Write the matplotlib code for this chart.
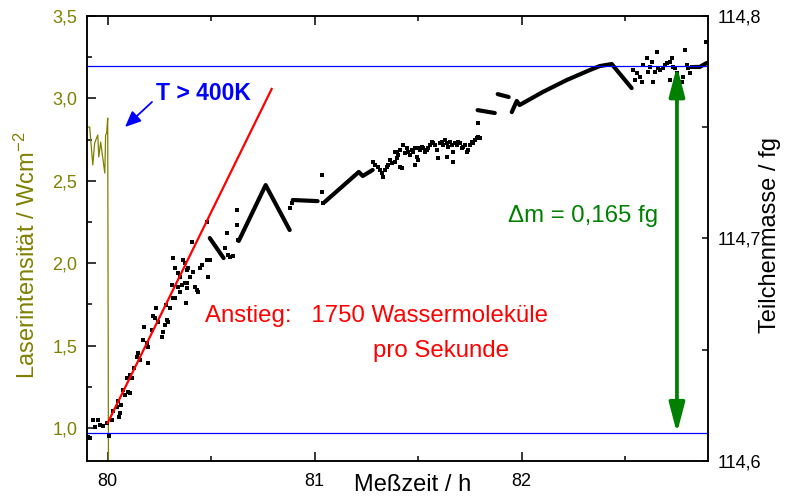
import matplotlib
matplotlib.use("Agg")
import matplotlib.pyplot as plt
from matplotlib.ticker import FixedLocator, AutoMinorLocator, FuncFormatter

plt.rcParams['font.family'] = ['Liberation Sans', 'DejaVu Sans']
plt.rcParams['mathtext.fontset'] = 'custom'
plt.rcParams['mathtext.rm'] = 'Liberation Sans'
plt.rcParams['mathtext.it'] = 'Liberation Sans:italic'

OLIVE = '#808000'
BLUE = '#0000ff'
RED = '#ff0000'
GREEN = '#008000'

# Laser intensity (W/cm^2) vs. time (h)
laser_t = [79.899, 79.913, 79.928, 79.937, 79.952, 79.957, 79.966, 79.971,
           79.986, 79.990, 79.995, 80.000, 80.005]
laser_i = [2.826, 2.826, 2.596, 2.729, 2.778, 2.644, 2.735, 2.687,
           2.547, 2.778, 2.790, 2.881, 0.0]

# Individual particle-mass readings (fg)
mass_t = [
    79.903, 79.913, 79.928, 79.937, 79.952, 79.961, 79.976, 79.995, 80.005,
    80.019, 80.024, 80.043, 80.048, 80.053, 80.058, 80.063, 80.072, 80.082,
    80.097, 80.106, 80.092, 80.106, 80.116, 80.126, 80.140, 80.145, 80.155,
    80.169, 80.188, 80.193, 80.174, 80.193, 80.213, 80.217, 80.227, 80.232,
    80.242, 80.261, 80.266, 80.275, 80.285, 80.290, 80.300, 80.280, 80.309,
    80.314, 80.324, 80.338, 80.348, 80.357, 80.372, 80.382, 80.377, 80.420,
    80.430, 80.435,
    80.314, 80.324, 80.338, 80.348, 80.362, 80.372, 80.382, 80.386, 80.396,
    80.382, 80.406, 80.411, 80.444, 80.454, 80.478, 80.478, 80.493, 80.483,
    80.565, 80.580, 80.589, 80.604, 80.575, 80.623, 80.623, 80.628,
    80.879, 80.889, 81.034, 81.034, 81.039,
    81.280, 81.290, 81.304, 81.314, 81.324, 81.329, 81.338, 81.348, 81.353,
    81.362, 81.372, 81.386, 81.396, 81.401, 81.411, 81.420, 81.386, 81.396,
    81.411, 81.425, 81.435, 81.444, 81.449, 81.459, 81.469, 81.473, 81.483,
    81.493, 81.498, 81.483, 81.498, 81.507, 81.517, 81.522, 81.531, 81.541,
    81.546, 81.556, 81.565, 81.570, 81.580, 81.589, 81.594, 81.604, 81.614,
    81.618, 81.628, 81.638, 81.638, 81.643, 81.652, 81.662, 81.667, 81.667,
    81.676, 81.686, 81.691, 81.700, 81.710, 81.715, 81.725, 81.734, 81.739,
    81.749, 81.758, 81.763, 81.773, 81.783, 81.787, 81.797, 81.787,
    82.536, 82.546, 82.556, 82.570, 82.580, 82.585, 82.604, 82.609, 82.618,
    82.628, 82.633, 82.643, 82.652, 82.657, 82.667, 82.681, 82.691, 82.700,
    82.715, 82.725, 82.729, 82.739, 82.749, 82.715, 82.773, 82.778, 82.787,
    82.797, 82.802, 82.812, 82.821, 82.889,
]
mass_m = [
    114.6108, 114.6103, 114.6184, 114.6153, 114.6184, 114.6162, 114.6157, 114.6171, 114.6112,
    114.6184, 114.6225, 114.6243, 114.6270, 114.6198, 114.6216, 114.6252, 114.6319, 114.6297,
    114.6310, 114.6306, 114.6373, 114.6386, 114.6373, 114.6418, 114.6467, 114.6485, 114.6454,
    114.6544, 114.6530, 114.6440, 114.6602, 114.6512, 114.6589, 114.6652, 114.6643, 114.6688,
    114.6625, 114.6557, 114.6580, 114.6611, 114.6634, 114.6625, 114.6688, 114.6701, 114.6791,
    114.6733, 114.6733, 114.6782, 114.6759, 114.6791, 114.6800, 114.6800, 114.6710, 114.6782,
    114.6768, 114.6759,
    114.6912, 114.6867, 114.6845, 114.6827, 114.6903, 114.6890, 114.6858, 114.6867, 114.6827,
    114.6777, 114.6984, 114.6849, 114.6867, 114.6881, 114.7074, 114.6903, 114.6903, 114.6827,
    114.6957, 114.6926, 114.6917, 114.6921, 114.7025, 114.7128, 114.7061, 114.6993,
    114.7137, 114.7159, 114.7285, 114.7209, 114.7159,
    114.7344, 114.7330, 114.7321, 114.7308, 114.7294, 114.7276, 114.7308, 114.7321, 114.7330,
    114.7353, 114.7339, 114.7344, 114.7362, 114.7375, 114.7321, 114.7317, 114.7389, 114.7389,
    114.7398, 114.7420, 114.7384, 114.7407, 114.7389, 114.7375, 114.7398, 114.7389, 114.7407,
    114.7366, 114.7353, 114.7330, 114.7407, 114.7398, 114.7411, 114.7407, 114.7389, 114.7398,
    114.7407, 114.7420, 114.7434, 114.7429, 114.7420, 114.7398, 114.7362, 114.7429, 114.7434,
    114.7420, 114.7443, 114.7429, 114.7366, 114.7411, 114.7434, 114.7420, 114.7389, 114.7344,
    114.7429, 114.7420, 114.7434, 114.7429, 114.7407, 114.7411, 114.7420, 114.7389, 114.7398,
    114.7420, 114.7434, 114.7429, 114.7443, 114.7452, 114.7456, 114.7452, 114.7519,
    114.7757, 114.7712, 114.7744, 114.7726, 114.7703, 114.7780, 114.7811, 114.7748, 114.7771,
    114.7793, 114.7703, 114.7748, 114.7838, 114.7766, 114.7757, 114.7766, 114.7780, 114.7789,
    114.7793, 114.7811, 114.7771, 114.7766, 114.7744, 114.7712, 114.7703, 114.7726, 114.7847,
    114.7780, 114.7766, 114.7744, 114.7771, 114.7883,
]

# Densely sampled stretches of the mass record
run_a_t = [80.493, 80.560]
run_a_m = [114.7002, 114.6912]
run_b_t = [80.633, 80.763, 80.879]
run_b_m = [114.6989, 114.7240, 114.7038]
run_c_t = [80.894, 81.014]
run_c_m = [114.7173, 114.7168]
run_d_t = [81.048, 81.213, 81.232, 81.280]
run_d_m = [114.7164, 114.7299, 114.7281, 114.7308]
run_e_t = [81.787, 81.870]
run_e_m = [114.7577, 114.7564]
run_f_t = [81.884, 81.937]
run_f_m = [114.7649, 114.7636]
run_g_t = [81.952, 81.976, 81.990, 82.101, 82.217, 82.329, 82.377, 82.435, 82.531]
run_g_m = [114.7568, 114.7618, 114.7600, 114.7658, 114.7712, 114.7757, 114.7775, 114.7784, 114.7676]
run_h_t = [82.836, 82.860, 82.894]
run_h_m = [114.7771, 114.7771, 114.7789]

# Linear rise after the laser is switched off
fit_t = [80.000, 80.792]
fit_m = [114.6171, 114.7672]

# Mass levels before and after the uptake
m_start = 114.6125
m_end = 114.7775
arrow_t = 82.75

fig = plt.figure(figsize=(7.85, 4.97), dpi=100)
ax = fig.add_axes([87 / 785, 1 - 461 / 497, (708 - 87) / 785, (461 - 16) / 497])
ax2 = ax.twinx()

# laser intensity (left axis)
ax.plot(laser_t, laser_i, color=OLIVE, lw=0.9)
ax.set_xlim(79.9, 82.9)
ax.set_ylim(0.8, 3.5)

# mass (right axis)
ax2.set_ylim(114.6, 114.8)
for tt, mm in [(run_a_t, run_a_m), (run_b_t, run_b_m), (run_c_t, run_c_m),
               (run_d_t, run_d_m), (run_e_t, run_e_m), (run_f_t, run_f_m),
               (run_g_t, run_g_m), (run_h_t, run_h_m)]:
    ax2.plot(tt, mm, color='black', lw=3.0, solid_capstyle='round',
             solid_joinstyle='round')
ax2.plot(mass_t, mass_m, ls='none', marker='s', ms=2.8, mew=0, color='black')

ax2.axhline(m_start, color=BLUE, lw=0.9)
ax2.axhline(m_end, color=BLUE, lw=0.9)
ax2.plot(fit_t, fit_m, color=RED, lw=1.6)

ax2.annotate('', xy=(arrow_t, m_end), xytext=(arrow_t, m_start),
             arrowprops=dict(arrowstyle='<|-|>,head_length=1.8,head_width=0.47',
                             mutation_scale=10, color=GREEN, lw=2.7,
                             shrinkA=0, shrinkB=0))

# ticks and labels
comma1 = FuncFormatter(lambda v, p: f"{v:.1f}".replace('.', ','))
ax.xaxis.set_major_locator(FixedLocator([80, 81, 82]))
ax.xaxis.set_major_formatter(FuncFormatter(lambda v, p: f"{v:.0f}"))
ax.xaxis.set_minor_locator(AutoMinorLocator(2))
ax.yaxis.set_major_locator(FixedLocator([1.0, 1.5, 2.0, 2.5, 3.0, 3.5]))
ax.yaxis.set_major_formatter(comma1)
ax.yaxis.set_minor_locator(AutoMinorLocator(2))
ax2.yaxis.set_major_locator(FixedLocator([114.6, 114.7, 114.8]))
ax2.yaxis.set_major_formatter(comma1)
ax2.yaxis.set_minor_locator(AutoMinorLocator(2))

ax.tick_params(axis='both', which='both', direction='in', width=1.1)
ax.tick_params(axis='x', which='both', top=True, bottom=True)
ax.tick_params(axis='x', which='major', length=6.5, pad=9, labelsize=13)
ax.tick_params(axis='x', which='minor', length=3.3)
ax.tick_params(axis='y', which='major', length=6.5, pad=7, labelsize=13,
               labelcolor=OLIVE)
ax.tick_params(axis='y', which='minor', length=3.3)
ax2.tick_params(axis='y', which='both', direction='in', width=1.1)
ax2.tick_params(axis='y', which='major', length=4.5, pad=7, labelsize=13)
ax2.tick_params(axis='y', which='minor', length=4.0)

for a in (ax, ax2):
    for s in a.spines.values():
        s.set_linewidth(1.1)

fig.text(413 / 785, 1 - 491 / 497, 'Meßzeit / h', ha='center', va='baseline',
         fontsize=17)
fig.text(27 / 785, 1 - 255 / 497, 'Laserintensität / Wcm$^{-2}$', rotation=90,
         ha='center', va='center', fontsize=17, color=OLIVE)
fig.text(770 / 785, 1 - 235 / 497, 'Teilchenmasse / fg', rotation=90,
         ha='center', va='center', fontsize=17)

# annotations
fig.text(156 / 785, 1 - 93 / 497, 'T > 400K', ha='left', va='center',
         fontsize=16.5, fontweight='bold', color=BLUE)
ax.annotate('', xy=(125 / 785, 1 - 127 / 497), xytext=(152 / 785, 1 - 102 / 497),
            xycoords='figure fraction', textcoords='figure fraction',
            arrowprops=dict(arrowstyle='-|>,head_length=0.8,head_width=0.35',
                            mutation_scale=12, color=BLUE, lw=1.3,
                            shrinkA=0, shrinkB=0))
fig.text(205 / 785, 1 - 322 / 497, 'Anstieg:   1750 Wassermoleküle', ha='left',
         va='baseline', fontsize=17.3, color=RED)
fig.text(373 / 785, 1 - 357 / 497, 'pro Sekunde', ha='left', va='baseline',
         fontsize=17.3, color=RED)
fig.text(508 / 785, 1 - 222 / 497, 'Δm = 0,165 fg', ha='left', va='baseline',
         fontsize=17.3, color=GREEN)

fig.savefig('out.png', dpi=100)
